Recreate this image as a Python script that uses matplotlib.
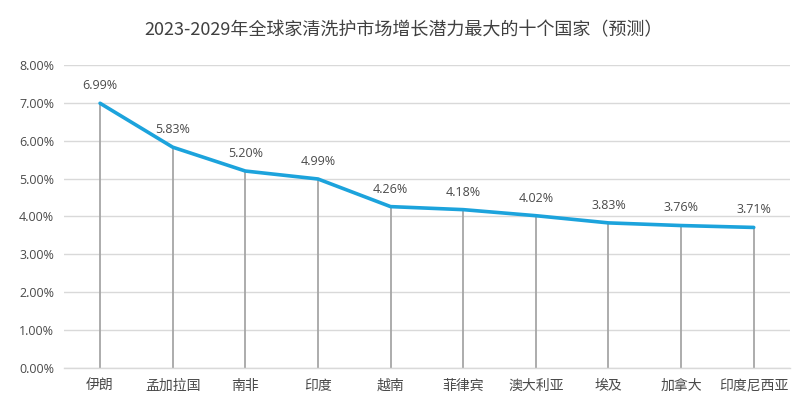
import matplotlib
matplotlib.use("Agg")
import matplotlib.pyplot as plt
import matplotlib.ticker as ticker

plt.rcParams['font.family'] = ['Noto Sans CJK SC', 'DejaVu Sans']

countries = ['伊朗', '孟加拉国', '南非', '印度', '越南', '菲律宾', '澳大利亚', '埃及', '加拿大', '印度尼西亚']
growth = [6.99, 5.83, 5.20, 4.99, 4.26, 4.18, 4.02, 3.83, 3.76, 3.71]
yticks = [0, 1, 2, 3, 4, 5, 6, 7, 8]

text_col = '#4A4A4A'
line_col = '#1CA3DC'

fig = plt.figure(figsize=(8.07, 3.99), dpi=100)
ax = fig.add_axes([0.079, 0.078, 0.9, 0.759])

x = list(range(len(countries)))
# drop lines
ax.vlines(x, 0, growth, color='#A6A6A6', linewidth=1.3, zorder=2)
ax.plot(x, growth, color=line_col, linewidth=2.6, solid_joinstyle='round',
        solid_capstyle='round', zorder=3)

for xi, v in zip(x, growth):
    ax.annotate(f'{v:.2f}%', (xi, v), xytext=(0, 8), textcoords='offset points',
                ha='center', va='bottom', fontsize=9, color=text_col,
                family=['Open Sans', 'DejaVu Sans'])

ax.set_xlim(-0.5, len(countries) - 0.5)
ax.set_ylim(0, 8)
ax.set_yticks(yticks)
ax.yaxis.set_major_formatter(ticker.FuncFormatter(lambda v, p: f'{v:.2f}%'))
ax.set_xticks(x)
ax.set_xticklabels(countries, fontsize=10, color=text_col)
for lab in ax.get_yticklabels():
    lab.set_family(['Open Sans', 'DejaVu Sans'])
    lab.set_fontsize(9)
    lab.set_color(text_col)
ax.tick_params(length=0, pad=8)
ax.tick_params(axis='y', pad=7)

ax.grid(axis='y', color='#D9D9D9', linewidth=1)
ax.set_axisbelow(True)
for s in ['top', 'right', 'left']:
    ax.spines[s].set_visible(False)
ax.spines['bottom'].set_color('#D9D9D9')
ax.spines['bottom'].set_linewidth(1)

fig.text(0.5, 0.925, '2023-2029年全球家清洗护市场增长潜力最大的十个国家（预测）',
         ha='center', va='center', fontsize=13, color='#404040')

fig.savefig('out.png', dpi=100)
